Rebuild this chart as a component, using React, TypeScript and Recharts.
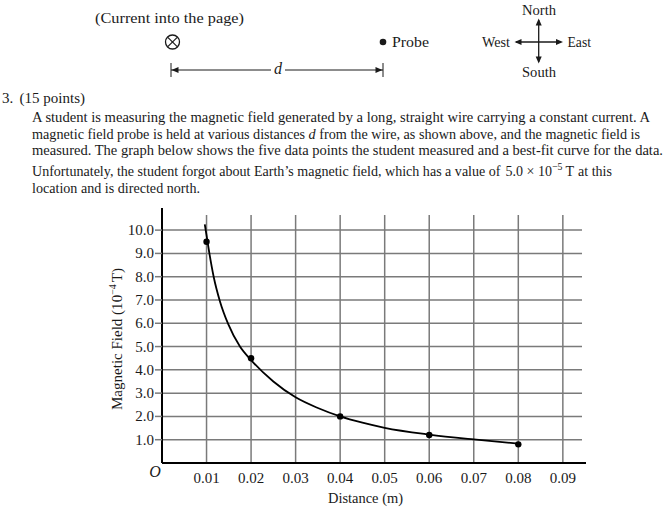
import React from 'react';
import { ComposedChart, XAxis, YAxis, Line, Scatter, ReferenceLine } from 'recharts';

// Tick values and labels
const xTicks = [0.01, 0.02, 0.03, 0.04, 0.05, 0.06, 0.07, 0.08, 0.09];
const xTickLabels = ['0.01', '0.02', '0.03', '0.04', '0.05', '0.06', '0.07', '0.08', '0.09'];
const yTicks = [1, 2, 3, 4, 5, 6, 7, 8, 9, 10];
const yTickLabels = ['1.0', '2.0', '3.0', '4.0', '5.0', '6.0', '7.0', '8.0', '9.0', '10.0'];

// Measured data points (distance m, field 10^-4 T)
const measuredD = [0.01, 0.02, 0.04, 0.06, 0.08];
const measuredB = [9.5, 4.5, 2.0, 1.2, 0.8];

// Best-fit curve
const fitD = [0.0096, 0.01, 0.0106, 0.0116, 0.013, 0.0149, 0.0175, 0.02, 0.025, 0.03, 0.035, 0.04, 0.045, 0.05, 0.06, 0.07, 0.08];
const fitB = [10.25, 9.78, 9.05, 8.0, 6.95, 5.95, 5.0, 4.42, 3.5, 2.82, 2.36, 2.0, 1.73, 1.51, 1.22, 1.01, 0.83];

const X_MAX = 0.0952;
const Y_MAX = 10.95;
const GRID_X_END = 0.0943;
const GRID_Y_END = 10.65;

const measuredData = measuredD.map((d, i) => ({ x: d, y: measuredB[i] }));
const fitData = fitD.map((d, i) => ({ x: d, y: fitB[i] }));

const SERIF = '"Liberation Serif", "Times New Roman", serif';
const INK = '#1a1a1a';
const GRID = '#7a7a7a';

const XTick = (props: any) => {
  const { x, y, payload } = props;
  const idx = xTicks.indexOf(payload.value);
  return (
    <text x={x} y={y} dy={12} textAnchor="middle" fontFamily={SERIF} fontSize={15} fill={INK}>
      {idx >= 0 ? xTickLabels[idx] : ''}
    </text>
  );
};

const YTick = (props: any) => {
  const { x, y, payload } = props;
  const idx = yTicks.indexOf(payload.value);
  return (
    <text x={x} y={y} dy={5} textAnchor="end" fontFamily={SERIF} fontSize={15} fill={INK}>
      {idx >= 0 ? yTickLabels[idx] : ''}
    </text>
  );
};

const Dot = (p: any) => <circle cx={p.cx} cy={p.cy} r={3.2} fill="#000" />;

const arrowHead = (tx: number, ty: number, dir: 'l' | 'r' | 'u' | 'd', len = 7, hw = 3) => {
  let pts = '';
  if (dir === 'l') pts = `${tx},${ty} ${tx + len},${ty - hw} ${tx + len},${ty + hw}`;
  if (dir === 'r') pts = `${tx},${ty} ${tx - len},${ty - hw} ${tx - len},${ty + hw}`;
  if (dir === 'u') pts = `${tx},${ty} ${tx - hw},${ty + len} ${tx + hw},${ty + len}`;
  if (dir === 'd') pts = `${tx},${ty} ${tx - hw},${ty - len} ${tx + hw},${ty - len}`;
  return <polygon points={pts} fill={INK} />;
};

const T = (p: { x: number; y: number; w?: number; size?: number; italic?: boolean; anchor?: string; children: React.ReactNode }) => (
  <text
    x={p.x}
    y={p.y}
    fontSize={p.size ?? 16}
    fontStyle={p.italic ? 'italic' : undefined}
    textAnchor={p.anchor as any}
    textLength={p.w}
    lengthAdjust={p.w ? 'spacingAndGlyphs' : undefined}
  >
    {p.children}
  </text>
);

// paragraph line: slightly taller glyphs, width fixed
const P = (p: { x: number; y: number; w: number; children: React.ReactNode }) => (
  <g transform={`translate(${p.x},${p.y}) scale(1,1.08)`}>
    <text x={0} y={0} fontSize={14.2} textLength={p.w} lengthAdjust="spacingAndGlyphs">
      {p.children}
    </text>
  </g>
);

export default function App() {
  return (
    <div style={{ position: 'absolute', left: 0, top: 0, width: 664, height: 511, background: '#fff', overflow: 'hidden' }}>
      <div style={{ position: 'absolute', left: 0, top: 0 }}>
        <ComposedChart width={664} height={511} margin={{ top: 208, right: 78, bottom: 8, left: 0 }}>
          {yTicks.map((v) => (
            <ReferenceLine key={'h' + v} segment={[{ x: 0, y: v }, { x: GRID_X_END, y: v }]} stroke={GRID} strokeWidth={1.5} />
          ))}
          {xTicks.map((v) => (
            <ReferenceLine key={'v' + v} segment={[{ x: v, y: 0 }, { x: v, y: GRID_Y_END }]} stroke={GRID} strokeWidth={1.5} />
          ))}
          <XAxis
            type="number"
            dataKey="x"
            domain={[0, X_MAX]}
            ticks={xTicks}
            tick={<XTick />}
            tickLine={false}
            axisLine={{ stroke: '#000', strokeWidth: 2 }}
            height={40}
            allowDataOverflow
            interval={0}
          />
          <YAxis
            type="number"
            dataKey="y"
            domain={[0, Y_MAX]}
            ticks={yTicks}
            tick={<YTick />}
            tickLine={{ stroke: GRID, strokeWidth: 1.5 }}
            tickSize={7}
            tickMargin={1}
            axisLine={{ stroke: '#000', strokeWidth: 2 }}
            width={162}
            allowDataOverflow
            interval={0}
          />
          <Line data={fitData} dataKey="y" type="monotone" stroke="#000" strokeWidth={1.8} dot={false} isAnimationActive={false} />
          <Scatter data={measuredData} dataKey="y" fill="#000" shape={<Dot />} isAnimationActive={false} />
        </ComposedChart>
      </div>
      <svg width={664} height={511} style={{ position: 'absolute', left: 0, top: 0, pointerEvents: 'none' }} fontFamily={SERIF} fill={INK}>
        {/* Diagram */}
        <T x={95} y={23} w={149} size={15.5}>(Current into the page)</T>
        <circle cx={172.5} cy={42} r={7} fill="none" stroke={INK} strokeWidth={1.3} />
        <line x1={167.8} y1={37.3} x2={177.2} y2={46.7} stroke={INK} strokeWidth={1.2} />
        <line x1={177.2} y1={37.3} x2={167.8} y2={46.7} stroke={INK} strokeWidth={1.2} />
        <circle cx={383} cy={42} r={3.3} fill={INK} />
        <T x={392} y={47} w={37} size={15.5}>Probe</T>
        {/* d dimension */}
        <line x1={171} y1={63} x2={171} y2={77} stroke={INK} strokeWidth={1} />
        <line x1={383} y1={63} x2={383} y2={77} stroke={INK} strokeWidth={1} />
        <line x1={171} y1={70} x2={271} y2={70} stroke={INK} strokeWidth={1} />
        <line x1={285} y1={70} x2={383} y2={70} stroke={INK} strokeWidth={1} />
        {arrowHead(171.5, 70, 'l')}
        {arrowHead(382.5, 70, 'r')}
        <T x={278} y={74} italic anchor="middle">d</T>
        {/* Compass */}
        <line x1={538.7} y1={20} x2={538.7} y2={62} stroke={INK} strokeWidth={1.3} />
        <line x1={516} y1={42} x2={561} y2={42} stroke={INK} strokeWidth={1.3} />
        {arrowHead(538.7, 18.5, 'u')}
        {arrowHead(538.7, 63.5, 'd')}
        {arrowHead(514.5, 42, 'l')}
        {arrowHead(563, 42, 'r')}
        <T x={539} y={15} anchor="middle" w={34} size={15.5}>North</T>
        <T x={539} y={77} anchor="middle" w={34} size={15.5}>South</T>
        <T x={482} y={47} w={28} size={15.5}>West</T>
        <T x={567.5} y={47} w={23.5} size={15.5}>East</T>
        {/* Question text */}
        <P x={2} y={103} w={83}>3.<tspan dx={6}>(15 points)</tspan></P>
        <P x={32} y={122} w={618}>A student is measuring the magnetic field generated by a long, straight wire carrying a constant current. A</P>
        <P x={32} y={139} w={608}>
          magnetic field probe is held at various distances <tspan fontStyle="italic">d</tspan> from the wire, as shown above, and the magnetic field is
        </P>
        <P x={32} y={155} w={631}>measured. The graph below shows the five data points the student measured and a best-fit curve for the data.</P>
        <P x={32} y={176} w={580}>
          Unfortunately, the student forgot about Earth’s magnetic field, which has a value of
          <tspan dx={5}>5.0 × 10</tspan>
          <tspan dy={-6} fontSize={10}>−5</tspan>
          <tspan dy={6} dx={3}>T</tspan>
          <tspan dx={4}>at this</tspan>
        </P>
        <P x={32} y={193} w={168}>location and is directed north.</P>
        {/* Axis labels */}
        <g transform="translate(122,339) rotate(-90)">
          <text x={0} y={0} fontSize={15} textAnchor="middle" textLength={142} lengthAdjust="spacingAndGlyphs">
            Magnetic Field (10<tspan dy={-6} fontSize={10}>−4</tspan><tspan dy={6} dx={2}>T)</tspan>
          </text>
        </g>
        <T x={155} y={477} italic anchor="middle">O</T>
        <T x={365.5} y={503} size={15} anchor="middle" w={75}>Distance (m)</T>
      </svg>
    </div>
  );
}
